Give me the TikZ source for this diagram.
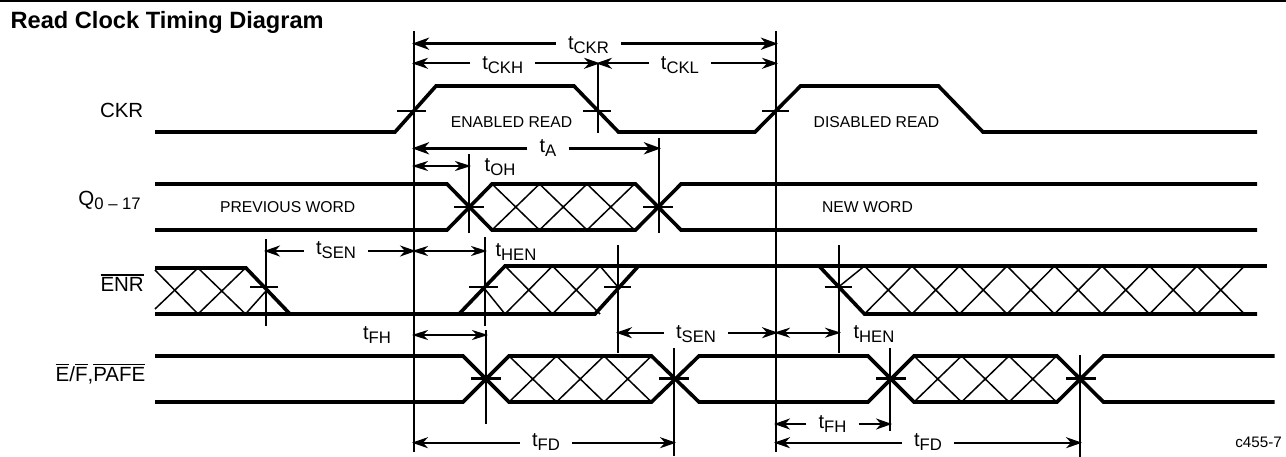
\documentclass[tikz,border=0pt]{standalone}
\usepackage{fontspec}
\setmainfont{Liberation Sans}
\usetikzlibrary{arrows.meta}
\newcommand{\tlab}[1]{t\raisebox{-4pt}{\fontsize{16.7}{16.7}\selectfont #1}}
\newcommand{\barred}[1]{\vbox{\hrule height 1.3pt\kern 1.9pt\hbox{#1}}}
% x top bottom periods
\newcommand{\hatchrun}[4]{\foreach \k in {1,...,#4} {
  \draw [hatch] ({#1+47.5*(\k-1)},#2) -- ({#1+47.5*\k},#3);
  \draw [hatch] ({#1+47.5*(\k-1)},#3) -- ({#1+47.5*\k},#2);
}}
\begin{document}
\begin{tikzpicture}[x=1pt,y=-1pt,
  wave/.style={line width=3.6pt,miter limit=4},
  hatch/.style={line width=1.5pt},
  edge/.style={line width=2pt},
  tick/.style={line width=2pt},
  bigtick/.style={line width=2.8pt},
  dim/.style={line width=2pt,shorten >=-2pt,-{Stealth[length=16pt,width=11pt,inset=5pt]}},
  bigdim/.style={line width=3pt,shorten >=-2pt,-{Stealth[length=17pt,width=12pt,inset=5pt]}},
  dimboth/.style={line width=2pt,shorten >=-2pt,shorten <=-2pt,{Stealth[length=16pt,width=10pt,inset=5pt]}-{Stealth[length=16pt,width=10pt,inset=5pt]}},
  timing/.style={font=\fontsize{20}{20}\selectfont,inner ysep=0pt,inner xsep=12pt,text height=12pt,text depth=4pt},
  timinghi/.style={timing,text height=16pt},
  signal/.style={font=\fontsize{20.5}{20.5}\selectfont,inner sep=0pt,anchor=base east},
  state/.style={font=\fontsize{15.7}{15.7}\selectfont,inner sep=0pt}]
\useasboundingbox (0,0) rectangle (1286,457);
\fill [black] (0,0) rectangle (1286,2);
\node (title) [font=\bfseries\fontsize{23.6}{23.6}\selectfont,inner sep=0pt,anchor=base west] at (10.5,28.3) {Read Clock Timing Diagram};

\coordinate (vrise1) at (414,31);
\coordinate (vrise1b) at (414,452);
\coordinate (vrise2) at (776,31);
\coordinate (vrise2b) at (776,452);
\coordinate (vfall) at (598,63);
\coordinate (vfallb) at (598,133);
\coordinate (vta) at (659,138);
\coordinate (vtab) at (659,233);
\coordinate (voh) at (469,154);
\coordinate (vohb) at (469,233);
\coordinate (vsen) at (266,239);
\coordinate (vsenb) at (266,326);
\coordinate (vhen) at (485,237);
\coordinate (vhenb) at (485,326);
\coordinate (vsen2) at (618,245);
\coordinate (vsen2b) at (618,353);
\coordinate (vhen2) at (839,245);
\coordinate (vhen2b) at (839,353);
\coordinate (vfh) at (486,330);
\coordinate (vfhb) at (486,424);
\coordinate (vfd) at (674,348);
\coordinate (vfdb) at (674,456);
\coordinate (vfh2) at (890,348);
\coordinate (vfh2b) at (890,431);
\coordinate (vfd2) at (1080,355);
\coordinate (vfd2b) at (1080,457);
\draw [edge] (vrise1) -- (vrise1b);
\draw [edge] (vrise2) -- (vrise2b);
\draw [edge] (vfall) -- (vfallb);
\draw [edge] (vta) -- (vtab);
\draw [edge] (voh) -- (vohb);
\draw [edge] (vsen) -- (vsenb);
\draw [edge] (vhen) -- (vhenb);
\draw [edge] (vsen2) -- (vsen2b);
\draw [edge] (vhen2) -- (vhen2b);
\draw [edge] (vfh) -- (vfhb);
\draw [edge] (vfd) -- (vfdb);
\draw [edge] (vfh2) -- (vfh2b);
\draw [edge] (vfd2) -- (vfd2b);

\node (ckr) [signal] at (143.5,117.3) {CKR};
\draw [wave] (155,132) -- (395,132) -- (436,86) -- (574,86) -- (618.5,132) -- (755,132) -- (800.5,86) -- (938.5,86) -- (983,132) -- (1257,132);
\draw [tick] (397,111) -- (426,111);
\draw [tick] (583,111) -- (611,111);
\draw [tick] (761.5,111) -- (789,111);
\node (enabled) [state] at (511.5,122.3) {ENABLED READ};
\node (disabled) [state] at (876.5,122.3) {DISABLED READ};

\node (q) [signal] at (141,206) {Q\raisebox{-4pt}{\fontsize{16.7}{16.7}\selectfont 0 -- 17}};
\draw [wave] (155,184) -- (447,184) -- (492,230) -- (635.5,230) -- (681,184) -- (1257,184);
\draw [wave] (155,230) -- (447,230) -- (492,184) -- (635.5,184) -- (681,230) -- (1257,230);
\hatchrun{492}{184}{230}{3}
\draw [bigtick] (454,207) -- (484,207);
\draw [bigtick] (643,207) -- (673,207);
\node (prev) [state] at (287.7,207.5) {PREVIOUS WORD};
\node (new) [state] at (867.5,207.5) {NEW WORD};

\node (enr) [signal] at (144,291.7) {\barred{ENR}};
\draw [wave] (155,268) -- (246,268) -- (290,314);
\draw [wave] (155,314) -- (595,314) -- (638.5,266);
\draw [wave] (459,314) -- (505,266) -- (819,266) -- (864.5,314) -- (1257,314);
\draw [wave] (819,266) -- (1267,266);
\draw [hatch] (155,270) -- (198,314);
\draw [hatch] (155,309) -- (198,268);
\hatchrun{198}{268}{314}{1}
\draw [hatch] (245.5,314) -- (266,291);
\draw [hatch] (484,288) -- (505,314);
\hatchrun{505}{266}{314}{2}
\draw [hatch] (600,266) -- (618,287);
\draw [hatch] (838.5,287) -- (864.5,266);
\hatchrun{864.5}{266}{314}{8}
\draw [tick] (250,287) -- (278,287);
\draw [tick] (469,287) -- (498,287);
\draw [tick] (604,287) -- (631,287);
\draw [tick] (824.5,287) -- (852,287);

\node (ef) [signal] at (145.5,381) {\barred{E}/\barred{F},\barred{PAFE}};
\draw [wave] (155,356) -- (463,356) -- (509,402) -- (651.5,402) -- (699,356) -- (868,356) -- (914,402) -- (1057,402) -- (1103.5,356) -- (1274.5,356);
\draw [wave] (155,402) -- (463,402) -- (509,356) -- (651.5,356) -- (699,402) -- (868,402) -- (914,356) -- (1057,356) -- (1103.5,402) -- (1274.5,402);
\hatchrun{509}{356}{402}{3}
\hatchrun{914}{356}{402}{3}
\draw [bigtick] (471,378.7) -- (501,378.7);
\draw [bigtick] (659,378.7) -- (689,378.7);
\draw [bigtick] (876,378.7) -- (906,378.7);
\draw [bigtick] (1066,378.7) -- (1096,378.7);

\node (tckr) [timinghi] at (588.5,43.7) {\tlab{CKR}};
\draw [bigdim] (tckr.west) -- (vrise1 |- tckr.west);
\draw [bigdim] (tckr.east) -- (vrise2 |- tckr.east);
\node (tckh) [timinghi] at (502.7,63.3) {\tlab{CKH}};
\draw [dim] (tckh.west) -- (vrise1 |- tckh.west);
\draw [dim] (tckh.east) -- (vfall |- tckh.east);
\node (tckl) [timinghi] at (680,63.3) {\tlab{CKL}};
\draw [dim] (tckl.west) -- (vfall |- tckl.west);
\draw [dim] (tckl.east) -- (vrise2 |- tckl.east);
\node (ta) [timing] at (548,148.3) {\tlab{A}};
\draw [bigdim] (ta.west) -- (vrise1 |- ta.west);
\draw [bigdim] (ta.east) -- (vta |- ta.east);
\node (toh) [timinghi,inner xsep=0pt] at (500,166) {\tlab{OH}};
\draw [dimboth] (vrise1 |- toh) -- (voh |- toh);
\node (tsen) [timing] at (336,251) {\tlab{SEN}};
\draw [dim] (tsen.west) -- (vsen |- tsen.west);
\draw [dim] (tsen.east) -- (vrise1 |- tsen.east);
\node (then) [timinghi,inner xsep=0pt] at (516,251) {\tlab{HEN}};
\draw [dimboth] (vrise1 |- then) -- (vhen |- then);
\node (tfh) [timing,inner xsep=0pt] at (377,335) {\tlab{FH}};
\draw [dimboth] (vrise1 |- tfh) -- (vfh |- tfh);
\node (tsens) [timinghi] at (696,332.7) {\tlab{SEN}};
\draw [dim] (tsens.west) -- (vsen2 |- tsens.west);
\draw [dim] (tsens.east) -- (vrise2 |- tsens.east);
\node (thens) [timinghi,inner xsep=0pt] at (874,332.7) {\tlab{HEN}};
\draw [dimboth] (vrise2 |- thens) -- (vhen2 |- thens);
\node (tfd) [timing] at (546,442.7) {\tlab{FD}};
\draw [dim] (tfd.west) -- (vrise1 |- tfd.west);
\draw [dim] (tfd.east) -- (vfd |- tfd.east);
\node (tfhs) [timing] at (832.5,424) {\tlab{FH}};
\draw [dim] (tfhs.west) -- (vrise2 |- tfhs.west);
\draw [dim] (tfhs.east) -- (vfh2 |- tfhs.east);
\node (tfds) [timing] at (928,442.7) {\tlab{FD}};
\draw [dim] (tfds.west) -- (vrise2 |- tfds.west);
\draw [dim] (tfds.east) -- (vfd2 |- tfds.east);
\node (part) [font=\fontsize{15.2}{15.2}\selectfont,inner sep=0pt,anchor=base east] at (1282,447.3) {c455-7};
\end{tikzpicture}
\end{document}
